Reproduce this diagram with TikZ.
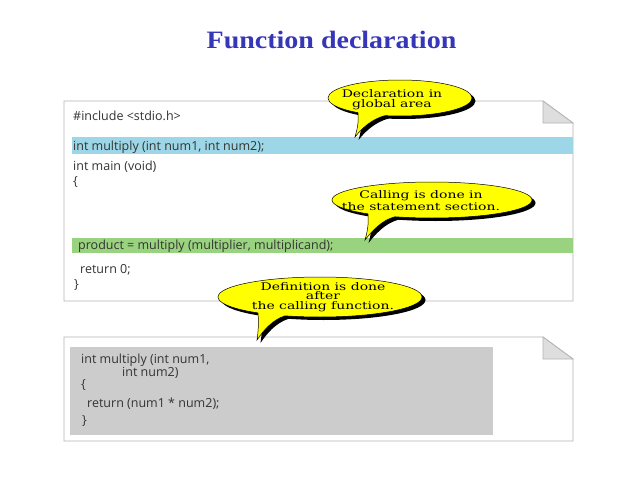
\documentclass[tikz,border=0pt]{standalone}
\usepackage{fontspec}
\setmainfont{DejaVu Serif}
\newfontfamily\titlefont{Liberation Serif}
\newfontfamily\codefont{Open Sans}
\newfontfamily\notefont[FakeStretch=1.33]{DejaVu Serif}
\definecolor{titleblue}{HTML}{3636B8}
\definecolor{bandblue}{HTML}{9DD6E6}
\definecolor{bandgreen}{HTML}{9AD380}
\definecolor{panelgray}{HTML}{CCCCCC}
\definecolor{pageline}{HTML}{B4B4B4}
\definecolor{foldgray}{HTML}{DEDEDE}
\definecolor{bubble}{HTML}{FFFF00}
\definecolor{codetext}{HTML}{333333}
\tikzset{
  code/.style={font=\codefont\fontsize{12.5}{14}\selectfont, anchor=base west, inner sep=0pt, text=codetext},
  note/.style={font=\notefont\fontsize{10.5}{10.5}\selectfont, align=center, inner sep=0pt},
  page/.style={draw=pageline, line width=0.8pt, fill=white},
  fold/.style={draw=pageline, line width=0.8pt, fill=foldgray},
  shadowfill/.style={fill=black},
  bubblefill/.style={fill=bubble},
  bubbleline/.style={draw=black, line width=0.5pt},
}
\begin{document}
\begin{tikzpicture}[x=1pt,y=-1pt]
\useasboundingbox[fill=white] (0,0) rectangle (638,479);

% title
\node[font=\titlefont\bfseries\fontsize{25}{30}\selectfont, text=titleblue, anchor=base, inner sep=0pt] (title) at (331.5,48) {\scalebox{1.12}[1]{Function declaration}};

% ---------- top page ----------
\draw[page] (64,101) -- (543,101) -- (573,123) -- (573,301) -- (64,301) -- cycle;
\draw[fold] (543,101) -- (543,123) -- (573,123) -- cycle;
\fill[bandblue] (72,137) rectangle (573,154);
\fill[bandgreen] (72,238) rectangle (573,253);

\node[code] (l1) at (73,120.5) {\#include <stdio.h>};
\node[code] (l2) at (73,150) {int multiply (int num1, int num2);};
\node[code] (l3) at (73,170.5) {int main (void)};
\node[code] (l4) at (73,185) {\{};
\node[code] (l5) at (78,249.5) {product = multiply (multiplier, multiplicand);};
\node[code] (l6) at (80,273.5) {return 0;};
\node[code] (l7) at (74,288) {\}};

% ---------- bottom page ----------
\draw[page] (64,337) -- (543,337) -- (573,359) -- (573,441) -- (64,441) -- cycle;
\draw[fold] (543,337) -- (543,359) -- (573,359) -- cycle;
\fill[panelgray] (70,347) rectangle (493,435);

\node[code] (m1) at (81,363.5) {int multiply (int num1,};
\node[code] (m2) at (122,376) {int num2)};
\node[code] (m3) at (81,388.5) {\{};
\node[code] (m4) at (87,407) {return (num1 * num2);};
\node[code] (m5) at (82,424) {\}};

% ---------- callout 1 ----------
\begin{scope}[shift={(3.5,3)}]
  \fill[shadowfill] (400,98) ellipse [x radius=72, y radius=18];
  \fill[shadowfill] (358,112.6) .. controls (359,122) and (357,130) .. (355,137)
     .. controls (362,128) and (372,119) .. (385,115.6) -- (385,106) -- (358,104) -- cycle;
\end{scope}
\filldraw[bubblefill, bubbleline] (400,98) ellipse [x radius=72, y radius=18];
\fill[bubblefill] (358,112.6) .. controls (359,122) and (357,130) .. (355,137)
   .. controls (362,128) and (372,119) .. (385,115.6) -- (385,106) -- (358,104) -- cycle;
\draw[bubbleline] (358,112.6) .. controls (359,122) and (357,130) .. (355,137)
   .. controls (362,128) and (372,119) .. (385,115.6);
\node[note] (n1) at (392,99.5) {Declaration in\\global area};

% ---------- callout 2 ----------
\begin{scope}[shift={(3.5,3)}]
  \fill[shadowfill] (432,200) ellipse [x radius=100, y radius=18];
  \fill[shadowfill] (368,213.8) .. controls (369,224) and (367,233) .. (365,240)
     .. controls (372,231) and (382,220) .. (395,216.7) -- (395,206) -- (368,204) -- cycle;
\end{scope}
\filldraw[bubblefill, bubbleline] (432,200) ellipse [x radius=100, y radius=18];
\fill[bubblefill] (368,213.8) .. controls (369,224) and (367,233) .. (365,240)
   .. controls (372,231) and (382,220) .. (395,216.7) -- (395,206) -- (368,204) -- cycle;
\draw[bubbleline] (368,213.8) .. controls (369,224) and (367,233) .. (365,240)
   .. controls (372,231) and (382,220) .. (395,216.7);
\node[note, font=\notefont\fontsize{10.5}{12.5}\selectfont] (n2) at (421,200.5) {Calling is done in\\the statement section.};

% ---------- callout 3 ----------
\begin{scope}[shift={(3.5,3)}]
  \fill[shadowfill] (320,297) ellipse [x radius=102, y radius=20];
  \fill[shadowfill] (258,312.9) .. controls (259,324) and (258,333) .. (257,340)
     .. controls (263,331) and (272,320) .. (285,315.8) -- (285,305) -- (258,303) -- cycle;
\end{scope}
\filldraw[bubblefill, bubbleline] (320,297) ellipse [x radius=102, y radius=20];
\fill[bubblefill] (258,312.9) .. controls (259,324) and (258,333) .. (257,340)
   .. controls (263,331) and (272,320) .. (285,315.8) -- (285,305) -- (258,303) -- cycle;
\draw[bubbleline] (258,312.9) .. controls (259,324) and (258,333) .. (257,340)
   .. controls (263,331) and (272,320) .. (285,315.8);
\node[note, font=\notefont\fontsize{10.5}{9.8}\selectfont] (n3) at (323,297) {Definition is done\\after\\the calling function.};
\end{tikzpicture}
\end{document}
